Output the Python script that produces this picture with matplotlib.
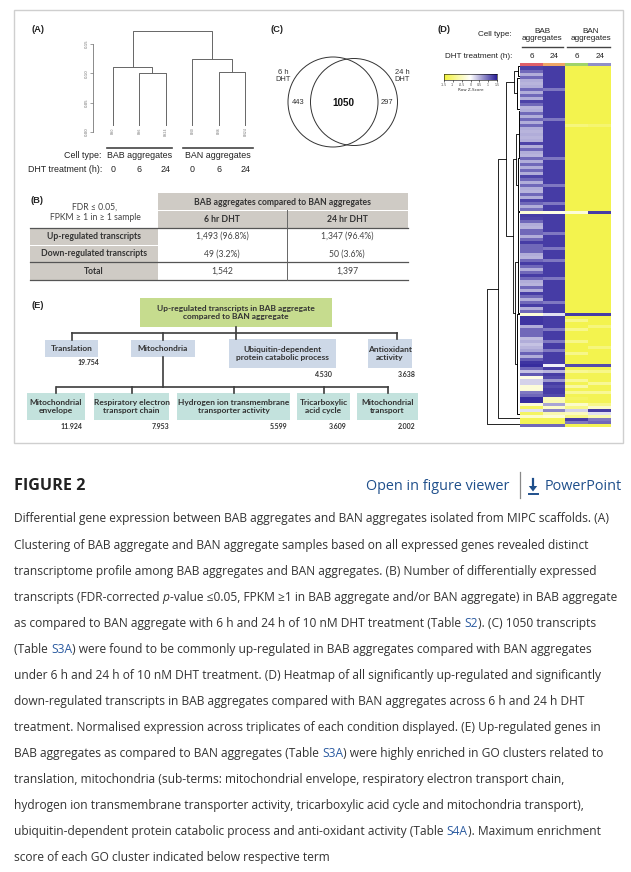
import numpy as np
import matplotlib
matplotlib.use('Agg')
import matplotlib.pyplot as plt
from matplotlib.colors import LinearSegmentedColormap
from matplotlib.patches import Rectangle, Circle, Polygon
from matplotlib.transforms import blended_transform_factory

# ---------------- data ----------------
# (A) sample clustering (R hclust style merges; negative = leaf)
dend_leaf_labels = ["BS0", "BS6", "BS24", "BN0", "BN6", "BN24"]
dend_merge = [(-2, -3), (-5, -6), (-1, 1), (-4, 2), (3, 4)]
dend_height = [0.100, 0.103, 0.111, 0.124, 0.172]
dend_yticks = [0.00, 0.05, 0.10, 0.15]
cell_types = ["BAB aggregates", "BAN aggregates"]
dht_hours = ["0", "6", "24", "0", "6", "24"]

# (B) table
tab_title = "BAB aggregates compared to BAN aggregates"
tab_cols = ["6 hr DHT", "24 hr DHT"]
tab_rows = ["Up-regulated transcripts", "Down-regulated transcripts", "Total"]
up_counts = [1493, 1347]
up_pct = [96.8, 96.4]
down_counts = [49, 50]
down_pct = [3.2, 3.6]
totals = [1542, 1397]

# (C) Venn
venn_only6 = 443
venn_both = 1050
venn_only24 = 297

# (D) heatmap (row z-scores), columns BAB 6h, BAB 24h, BAN 6h, BAN 24h
bab6 = [1.25, 1.25, 1.00, 0.55, 1.00, 0.55, 0.50, 0.55, 1.00, 0.55,
        1.00, 0.55, 1.25, 1.00, 0.50, 0.55, 1.00, 0.55, 1.00, 0.55,
        1.00, 0.55, 0.50, 0.55, 0.50, 0.55, 1.25, 0.55, 1.00, 0.55,
        0.50, 1.00, 0.55, 1.00, 0.55, 1.00, 0.55, 1.25, 1.00, 0.55,
        1.00, 0.55, 0.50, 1.00, 0.55, 1.25, 1.00, 0.55, 0.95, -0.30,
        1.30, 1.25, 1.00, 0.55, 0.50, 1.00, 1.00, 0.55, 1.00, 1.30,
        1.00, 1.00, 1.00, 0.55, 0.50, 1.00, 1.30, 1.00, 0.55, 1.00,
        1.30, 1.00, 0.55, 0.50, 1.00, 0.55, 1.30, 1.00, 0.55, 1.00,
        1.30, 0.55, 1.00, -0.30, 1.35, 1.35, 1.35, 0.55, 1.00, 1.00,
        1.00, 0.45, 0.55, 0.40, 0.50, 0.60, 1.05, 0.55, 1.10, 1.35,
        1.40, 1.00, 0.40, 1.10, -0.20, 0.30, 0.30, -0.30, -0.30, 0.90,
        1.00, 1.40, 1.40, -0.30, -1.20, 0.20, -1.20, -0.40, -1.30, -1.30,
        1.00]
bab24 = [1.3, 1.3, 1.3, 1.3, 1.3, 1.3, 1.3, 1.3, 0.9, 1.3,
         1.3, 1.3, 1.3, 1.3, 1.3, 1.3, 1.3, 1.3, 0.9, 1.3,
         1.3, 1.3, 1.3, 1.3, 1.3, 1.3, 1.3, 1.3, 1.3, 1.3,
         1.3, 0.9, 1.3, 1.3, 1.3, 1.3, 1.3, 1.3, 1.3, 1.3,
         0.9, 1.3, 1.3, 1.3, 1.3, 1.3, 0.9, 1.3, 1.3, -0.2,
         1.3, 1.3, 1.3, 1.3, 1.3, 1.3, 0.9, 1.3, 1.3, 1.3,
         1.3, 0.9, 1.3, 1.3, 1.3, 0.9, 1.3, 1.3, 1.3, 1.3,
         1.3, 0.9, 1.3, 1.3, 1.3, 1.3, 1.3, 1.3, 1.3, 0.9,
         1.3, 1.3, 1.3, 0.2, 1.3, 1.3, 1.3, 1.3, 0.9, 1.3,
         1.3, 1.3, 0.9, 1.3, 1.3, 0.9, 1.3, 1.3, 1.3, 1.3,
         0.1, 1.3, 0.5, 1.3, 1.2, 0.7, 1.3, 1.2, 1.3, 1.3,
         1.2, -0.5, -0.6, 0.6, -0.4, 0.8, -0.6, -0.3, -1.3, -1.3,
         1.0]
ban6 = [-1.35, -1.35, -1.35, -1.35, -1.35, -1.35, -1.35, -1.35, -1.35, -1.35,
        -1.35, -1.35, -1.35, -1.35, -1.35, -1.35, -1.35, -1.35, -1.35, -1.35,
        -1.00, -1.35, -1.35, -1.35, -1.35, -1.35, -1.35, -1.35, -1.35, -1.35,
        -1.35, -1.35, -1.35, -1.35, -1.35, -1.35, -1.35, -1.35, -1.35, -1.35,
        -1.35, -1.35, -1.35, -1.35, -1.35, -1.35, -1.35, -1.35, -1.35, -0.30,
        -1.35, -1.35, -1.35, -1.35, -1.35, -1.35, -1.35, -1.35, -1.35, -1.35,
        -1.35, -1.35, -1.35, -1.35, -1.35, -1.35, -1.35, -1.35, -1.35, -1.35,
        -1.35, -1.35, -1.35, -1.35, -1.35, -1.35, -1.35, -1.35, -1.35, -1.35,
        -1.35, -1.35, -1.35, 1.30, -1.35, -0.90, -1.35, -1.35, -0.90, -1.35,
        -1.35, -1.35, -0.90, -1.35, -1.35, -1.35, -0.90, -1.35, -1.35, -1.35,
        1.20, -1.30, -0.80, -1.30, -1.30, -0.80, -1.30, -0.70, -1.30, -0.80,
        -1.30, -1.20, -1.30, -0.40, -0.90, 0.30, -0.50, -0.90, 1.30, 0.90,
        -1.30]
ban24 = [-1.35, -1.35, -1.35, -1.35, -1.35, -1.35, -1.35, -1.35, -1.35, -1.35,
         -1.35, -1.35, -1.35, -1.35, -1.35, -1.35, -1.35, -1.35, -1.35, -1.35,
         -1.10, -1.35, -1.35, -1.35, -1.35, -1.35, -1.35, -1.35, -1.35, -1.35,
         -1.35, -1.35, -1.35, -1.35, -1.35, -1.35, -1.35, -1.35, -1.35, -1.35,
         -1.35, -1.35, -1.35, -1.35, -1.35, -1.35, -1.35, -1.35, -1.35, 1.30,
         -1.35, -1.35, -1.35, -1.35, -1.35, -1.35, -1.35, -1.35, -1.35, -1.35,
         -1.35, -1.35, -1.35, -1.35, -1.35, -1.35, -1.35, -1.35, -1.35, -1.35,
         -1.35, -1.35, -1.35, -1.35, -1.35, -1.35, -1.35, -1.35, -1.35, -1.35,
         -1.35, -1.35, -1.35, 1.30, -1.35, -1.35, -1.35, -1.00, -1.35, -1.35,
         -1.35, -1.35, -1.35, -1.35, -1.00, -1.35, -1.35, -1.35, -1.35, -1.35,
         1.20, -1.30, -0.90, -1.30, -1.30, -1.30, -0.80, -1.30, -1.30, -0.80,
         -1.30, -1.30, -1.30, -0.90, -0.40, 1.30, 0.20, -0.60, 0.90, 1.00,
         -1.30]
hm_side_colors = ["#e0606a", "#eea766", "#9fd36a", "#8f8fc8"]
hm_cell_types = ["BAB\naggregates", "BAN\naggregates"]
hm_hours = ["6", "24", "6", "24"]
key_ticks = [-1.5, -1, -0.5, 0, 0.5, 1, 1.5]
# row dendrogram: [height, left, right]; leaf cluster = (first_row, last_row, height)
row_tree = [33,
            [22,
             [14,
              [6, (0, 3, 2.0), (4, 14, 3.0)],
              [7,
               [4, (15, 30, 1.5), (31, 48, 2.0)],
               [5.5, (49, 82, 2.5), (83, 116, 3.0)]]],
             (117, 118, 0.5)],
            (119, 120, 0.5)]

# (E) GO clusters
go_root = "Up-regulated transcripts in BAB aggregate\ncompared to BAN aggregate"
go_l2 = ["Translation", "Mitochondria", "Ubiquitin-dependent\nprotein catabolic process", "Antioxidant\nactivity"]
go_l2_scores = ["19.754", "", "4.530", "3.638"]
go_l3 = ["Mitochondrial\nenvelope", "Respiratory electron\ntransport chain",
         "Hydrogen ion transmembrane\ntransporter activity", "Tricarboxylic\nacid cycle",
         "Mitochondrial\ntransport"]
go_l3_scores = ["11.924", "7.953", "5.599", "3.609", "2.002"]

caption_lines = [
    [("Differential gene expression between BAB aggregates and BAN aggregates isolated from MIPC scaffolds. (A)", "n")],
    [("Clustering of BAB aggregate and BAN aggregate samples based on all expressed genes revealed distinct", "n")],
    [("transcriptome profile among BAB aggregates and BAN aggregates. (B) Number of differentially expressed", "n")],
    [("transcripts (FDR-corrected ", "n"), ("p", "i"), ("-value \u22640.05, FPKM \u22651 in BAB aggregate and/or BAN aggregate) in BAB aggregate", "n")],
    [("as compared to BAN aggregate with 6 h and 24 h of 10 nM DHT treatment (Table ", "n"), ("S2", "l"), ("). (C) 1050 transcripts", "n")],
    [("(Table ", "n"), ("S3A", "l"), (") were found to be commonly up-regulated in BAB aggregates compared with BAN aggregates", "n")],
    [("under 6 h and 24 h of 10 nM DHT treatment. (D) Heatmap of all significantly up-regulated and significantly", "n")],
    [("down-regulated transcripts in BAB aggregates compared with BAN aggregates across 6 h and 24 h DHT", "n")],
    [("treatment. Normalised expression across triplicates of each condition displayed. (E) Up-regulated genes in", "n")],
    [("BAB aggregates as compared to BAN aggregates (Table ", "n"), ("S3A", "l"), (") were highly enriched in GO clusters related to", "n")],
    [("translation, mitochondria (sub-terms: mitochondrial envelope, respiratory electron transport chain,", "n")],
    [("hydrogen ion transmembrane transporter activity, tricarboxylic acid cycle and mitochondria transport),", "n")],
    [("ubiquitin-dependent protein catabolic process and anti-oxidant activity (Table ", "n"), ("S4A", "l"), ("). Maximum enrichment", "n")],
    [("score of each GO cluster indicated below respective term", "n")],
]

# ---------------- setup ----------------
W, H = 631, 872
fig = plt.figure(figsize=(W / 100, H / 100), dpi=100, facecolor='white')
ax0 = fig.add_axes([0, 0, 1, 1])
ax0.set_xlim(0, W)
ax0.set_ylim(H, 0)
ax0.axis('off')

def px_axes(x0, y0, x1, y1):
    return fig.add_axes([x0 / W, 1 - y1 / H, (x1 - x0) / W, (y1 - y0) / H])

SANS = ['Liberation Sans', 'DejaVu Sans']
TAB = ['Lato', 'DejaVu Sans']
CAP = ['Open Sans', 'DejaVu Sans']
TXT = '#333333'
LINK = '#2a5aa0'

renderer = fig.canvas.get_renderer()

def text_w(s, size, **kw):
    s2 = s.rstrip()
    t = ax0.text(0, 0, s2, fontsize=size, **kw)
    w = t.get_window_extent(renderer).width
    t.remove()
    n = len(s) - len(s2)
    if n:
        t1 = ax0.text(0, 0, 'a a', fontsize=size, **kw)
        t2 = ax0.text(0, 0, 'aa', fontsize=size, **kw)
        sp = t1.get_window_extent(renderer).width - t2.get_window_extent(renderer).width
        t1.remove(); t2.remove()
        w += n * sp
    return w

def fit(s, target, **kw):
    return 10.0 * target / text_w(s, 10.0, **kw)

# figure border
ax0.add_patch(Rectangle((14, 10), 609, 433, fill=False, ec='#cfcfcf', lw=1.0))

# panel labels
fs_lab = fit("(A)", 13, family=SANS, weight='bold')
for lab, x, y in [("(A)", 38, 30), ("(C)", 277, 30), ("(D)", 444, 30), ("(B)", 37, 200), ("(E)", 37.5, 305)]:
    ax0.text(x, y, lab, fontsize=fs_lab, family=SANS, weight='bold', ha='center', va='center', color='#222')

# ---------------- (A) dendrogram ----------------
leaf_dx = 26.5
ax_a = px_axes(93, 30, 262, 132)
ax_a.set_xlim(1 - (112.7 - 93) / leaf_dx, 1 + (262 - 112.7) / leaf_dx)
ax_a.set_ylim(0, 0.15 * 102 / 88)
ax_a.patch.set_alpha(0)
for sp in ['top', 'right', 'bottom']:
    ax_a.spines[sp].set_visible(False)
ax_a.spines['left'].set_bounds(0, 0.15)
ax_a.spines['left'].set_color('#777')
ax_a.spines['left'].set_linewidth(0.6)
ax_a.set_xticks([])
ax_a.set_yticks(dend_yticks)
ax_a.set_yticklabels([f"{v:.2f}" for v in dend_yticks], rotation=90, va='center', fontsize=2.8, color='#666')
ax_a.tick_params(axis='y', length=2, width=0.5, color='#777', pad=1)
leaf_bottom = 0.012
node_pos = {}
node_h = {}
def child(c):
    if c < 0:
        return float(-c), leaf_bottom
    return node_pos[c], node_h[c]
for k, ((a, b), h) in enumerate(zip(dend_merge, dend_height), start=1):
    xa, ha = child(a)
    xb, hb = child(b)
    ax_a.plot([xa, xa, xb, xb], [ha, h, h, hb], color='#666', lw=0.7)
    node_pos[k] = (xa + xb) / 2
    node_h[k] = h
for i, lab in enumerate(dend_leaf_labels, start=1):
    ax_a.text(i, leaf_bottom - 0.004, lab, rotation=90, fontsize=2.3, color='#777', ha='center', va='top')

fs_a = fit("BAB aggregates", 65, family=SANS)
tr = blended_transform_factory(ax_a.transData, ax0.transData)
ax0.plot([107, 172], [148, 148], color='#444', lw=1.2)
ax0.plot([183, 253], [148, 148], color='#444', lw=1.2)
ax0.text(102, 156, "Cell type:", fontsize=fs_a, family=SANS, ha='right', va='center', color='#222')
ax0.text(139.5, 156, cell_types[0], fontsize=fs_a, family=SANS, ha='center', va='center', color='#222')
ax0.text(218, 156, cell_types[1], fontsize=fs_a, family=SANS, ha='center', va='center', color='#222')
ax0.text(102, 169, "DHT treatment (h):", fontsize=fs_a, family=SANS, ha='right', va='center', color='#222')
for i, hr in enumerate(dht_hours, start=1):
    ax0.text(i, 169, hr, transform=tr, fontsize=fs_a, family=SANS, ha='center', va='center', color='#222')

# ---------------- (C) Venn ----------------
ax0.add_patch(Circle((333, 102), 45, fill=False, ec='#333', lw=0.7))
ax0.add_patch(Circle((354, 102), 43.5, fill=False, ec='#333', lw=0.7))
fs_v = fit("DHT", 15.5, family=SANS)
ax0.text(283, 76, "6 h\nDHT", fontsize=fs_v, family=SANS, ha='center', va='center', color='#333', linespacing=1.05)
ax0.text(402, 76, "24 h\nDHT", fontsize=fs_v, family=SANS, ha='center', va='center', color='#333', linespacing=1.05)
ax0.text(298, 103, str(venn_only6), fontsize=fs_v, family=SANS, ha='center', va='center', color='#333')
ax0.text(387, 103, str(venn_only24), fontsize=fs_v, family=SANS, ha='center', va='center', color='#333')
fs_vb = fit("1050", 22, family=SANS, weight='bold')
ax0.text(343.3, 103, str(venn_both), fontsize=fs_vb, family=SANS, weight='bold', ha='center', va='center', color='#111')

# ---------------- (B) table ----------------
GRAY = '#cfcbc5'
fs_t = 1.09 * fit("Down-regulated transcripts", 98, family=TAB, weight='bold')
ax0.add_patch(Rectangle((158, 193), 250, 17, fc=GRAY, ec='none'))
ax0.add_patch(Rectangle((158, 210.8), 128.6, 17.2, fc=GRAY, ec='none'))
ax0.add_patch(Rectangle((287.4, 210.8), 120.6, 17.2, fc=GRAY, ec='none'))
row_y = [(228, 245), (245.8, 262), (262, 280)]
for (y0, y1) in row_y:
    ax0.add_patch(Rectangle((30, y0), 128, y1 - y0, fc=GRAY, ec='none'))
ax0.plot([30, 408], [228, 228], color='#555', lw=0.9)
ax0.plot([30, 408], [262, 262], color='#555', lw=0.9)
ax0.plot([30, 408], [280, 280], color='#555', lw=0.9)
ax0.plot([287, 287], [210.5, 280], color='#666', lw=0.7)
ax0.text(283, 202, tab_title, fontsize=fs_t, family=TAB, weight='bold', ha='center', va='center', color=TXT)
ax0.text(222, 219, tab_cols[0], fontsize=fs_t, family=TAB, weight='bold', ha='center', va='center', color=TXT)
ax0.text(347, 219, tab_cols[1], fontsize=fs_t, family=TAB, weight='bold', ha='center', va='center', color=TXT)
ax0.text(95, 207, "FDR \u2264 0.05,", fontsize=fs_t, family=TAB, ha='center', va='center', color='#444')
ax0.text(95, 217.5, "FPKM \u2265 1 in \u2265 1 sample", fontsize=fs_t, family=TAB, ha='center', va='center', color='#444')
for lab, (y0, y1) in zip(tab_rows, row_y):
    ax0.text(94, (y0 + y1) / 2, lab, fontsize=fs_t, family=TAB, weight='bold', ha='center', va='center', color=TXT)
col_cx = [222, 347]
for j in range(2):
    vals = [f"{up_counts[j]:,} ({up_pct[j]}%)", f"{down_counts[j]} ({down_pct[j]}%)", f"{totals[j]:,}"]
    for v, (y0, y1) in zip(vals, row_y):
        ax0.text(col_cx[j], (y0 + y1) / 2, v, fontsize=fs_t, family=TAB, ha='center', va='center', color='#444')

# ---------------- (E) GO tree ----------------
GREEN = '#c6dc8e'
BLUE = '#cdd8e7'
TEAL = '#c3e2dd'
LC = '#3c3c3c'
fs_g = 1.07 * fit("Hydrogen ion transmembrane", 105, family=TAB, weight='bold')
fs_s = fit("19.754", 22, family=TAB, weight='bold')
ax0.add_patch(Rectangle((140, 298), 192, 29, fc=GREEN, ec='none'))
ax0.text(236, 312.5, go_root, fontsize=fs_g, family=TAB, weight='bold', ha='center', va='center', color=TXT, linespacing=1.25)
ax0.plot([236, 236], [327, 339], color=LC, lw=1.2)
ax0.plot([72, 397], [333, 333], color=LC, lw=1.2)
l2_boxes = [(45, 340, 98, 357), (131, 340, 195, 357), (229, 339, 336, 368), (368, 339, 412, 368)]
l2_drop = [72, 163, None, 397]
l2_score_pos = [(99, 362), None, (333, 374), (416, 374)]
for lab, sc, (x0, y0, x1, y1), dx, sp in zip(go_l2, go_l2_scores, l2_boxes, l2_drop, l2_score_pos):
    ax0.add_patch(Rectangle((x0, y0), x1 - x0, y1 - y0, fc=BLUE, ec='none'))
    ax0.text((x0 + x1) / 2, (y0 + y1) / 2, lab, fontsize=fs_g, family=TAB, weight='bold', ha='center', va='center', color=TXT, linespacing=1.3)
    if dx is not None:
        ax0.plot([dx, dx], [333, y0], color=LC, lw=1.2)
    if sc:
        ax0.text(sp[0], sp[1], sc, fontsize=fs_s, family=TAB, weight='bold', ha='right', va='center', color=TXT)
ax0.plot([163, 163], [357, 387], color=LC, lw=1.2)
ax0.plot([57, 388], [387, 387], color=LC, lw=1.2)
l3_boxes = [(27, 393, 85, 420), (94, 393, 169, 420), (177, 393, 290, 420), (297, 393, 350, 420), (357, 393, 418, 420)]
l3_score_x = [83, 169, 287, 347, 415]
for lab, sc, (x0, y0, x1, y1), sx in zip(go_l3, go_l3_scores, l3_boxes, l3_score_x):
    cx = (x0 + x1) / 2
    ax0.plot([cx, cx], [387, y0], color=LC, lw=1.2)
    ax0.add_patch(Rectangle((x0, y0), x1 - x0, y1 - y0, fc=TEAL, ec='none'))
    ax0.text(cx, (y0 + y1) / 2, lab, fontsize=fs_g, family=TAB, weight='bold', ha='center', va='center', color=TXT, linespacing=1.3)
    ax0.text(sx, 426, sc, fontsize=fs_s, family=TAB, weight='bold', ha='right', va='center', color=TXT)

# ---------------- (D) heatmap ----------------
zcmap = LinearSegmentedColormap.from_list('ywb', ['#f2f23c', '#ffffff', '#2a1f98'])
hm = np.array([bab6, bab24, ban6, ban24]).T
ax_hm = px_axes(520, 65, 611, 427)
ax_hm.imshow(hm, cmap=zcmap, vmin=-1.5, vmax=1.5, aspect='auto', interpolation='nearest')
ax_hm.axis('off')
ax_sc = px_axes(520, 63.5, 611, 66)
side = np.array([[matplotlib.colors.to_rgb(c) for c in hm_side_colors]])
ax_sc.imshow(side, aspect='auto', interpolation='nearest')
ax_sc.axis('off')

ax_rd = px_axes(484, 65, 520, 427)
ax_rd.set_xlim(36, 0)
ax_rd.set_ylim(len(bab6), 0)
ax_rd.axis('off')
def draw_tree(node):
    if isinstance(node, tuple):
        r0, r1, h = node
        ax_rd.plot([0, h, h, 0], [r0 + 0.25, r0 + 0.25, r1 + 0.75, r1 + 0.75], color='k', lw=0.7)
        return (r0 + r1 + 1) / 2, h
    h, a, b = node
    ya, ha = draw_tree(a)
    yb, hb = draw_tree(b)
    ax_rd.plot([ha, h, h, hb], [ya, ya, yb, yb], color='k', lw=0.6)
    return (ya + yb) / 2, h
draw_tree(row_tree)

# colour key
ax_key = px_axes(444, 74, 497, 80)
ax_key.imshow(np.linspace(-1.5, 1.5, 200).reshape(1, -1), cmap=zcmap, vmin=-1.5, vmax=1.5,
              aspect='auto', extent=(-1.5, 1.5, 0, 1))
ax_key.set_yticks([])
ax_key.set_xticks(key_ticks)
ax_key.set_xticklabels([f"{t:g}" for t in key_ticks], fontsize=2.3, color='#444')
ax_key.tick_params(axis='x', length=1.2, width=0.4, pad=0.8)
for sp in ax_key.spines.values():
    sp.set_linewidth(0.4)
ax_key.set_xlabel("Row Z-Score", fontsize=3.0, labelpad=1.2, color='#333')

fs_d = fit("aggregates", 41, family=SANS)
ax0.text(512, 35, "Cell type:", fontsize=fs_d, family=SANS, ha='right', va='center', color='#222')
ax0.text(542, 35, hm_cell_types[0], fontsize=fs_d, family=SANS, ha='center', va='center', color='#222', linespacing=1.15)
ax0.text(591, 35, hm_cell_types[1], fontsize=fs_d, family=SANS, ha='center', va='center', color='#222', linespacing=1.15)
ax0.plot([522, 563], [47, 47], color='#444', lw=1.0)
ax0.plot([567, 610], [47, 47], color='#444', lw=1.0)
ax0.text(512, 57, "DHT treatment (h):", fontsize=fs_d, family=SANS, ha='right', va='center', color='#222')
trh = blended_transform_factory(ax_hm.transData, ax0.transData)
for j, hr in enumerate(hm_hours):
    ax0.text(j, 57, hr, transform=trh, fontsize=fs_d, family=SANS, ha='center', va='center', color='#222')

# ---------------- header & caption ----------------
fs_fig = fit("FIGURE 2", 71, family=CAP, weight='bold')
ax0.text(14, 486, "FIGURE 2", fontsize=fs_fig, family=CAP, weight='bold', ha='left', va='center', color='#222')
fs_link = fit("Open in figure viewer", 144, family=CAP)
ax0.text(366, 486, "Open in figure viewer", fontsize=fs_link, family=CAP, ha='left', va='center', color='#1f4f8b')
ax0.plot([520, 520], [472, 498], color='#888', lw=0.9)
ax0.text(622, 486, "PowerPoint", fontsize=fs_link, family=CAP, ha='right', va='center', color='#1f4f8b')
ax0.plot([533, 533], [479, 487], color='#1f4f8b', lw=1.6)
ax0.add_patch(Polygon([[528.8, 486], [537.2, 486], [533, 491.5]], closed=True, fc='#1f4f8b', ec='none'))
ax0.plot([528.5, 537.5], [494, 494], color='#1f4f8b', lw=1.4)

first = caption_lines[0][0][0]
fs_cap = fit(first, 602, family=CAP)
cap_y = [518, 545, 571, 597, 623, 649, 675, 701, 727, 753, 779, 805, 831, 857]
for runs, y in zip(caption_lines, cap_y):
    prefix = ''
    for s, style in runs:
        dx = text_w(prefix, fs_cap, family=CAP) if prefix else 0.0
        kw = dict(fontsize=fs_cap, family=CAP, va='center', ha='left', color=TXT)
        if style == 'l':
            kw['color'] = LINK
        if style == 'i':
            kw['style'] = 'italic'
        ax0.text(14 + dx, y, s, **kw)
        prefix += s

fig.savefig('out.png', dpi=100, facecolor='white')
